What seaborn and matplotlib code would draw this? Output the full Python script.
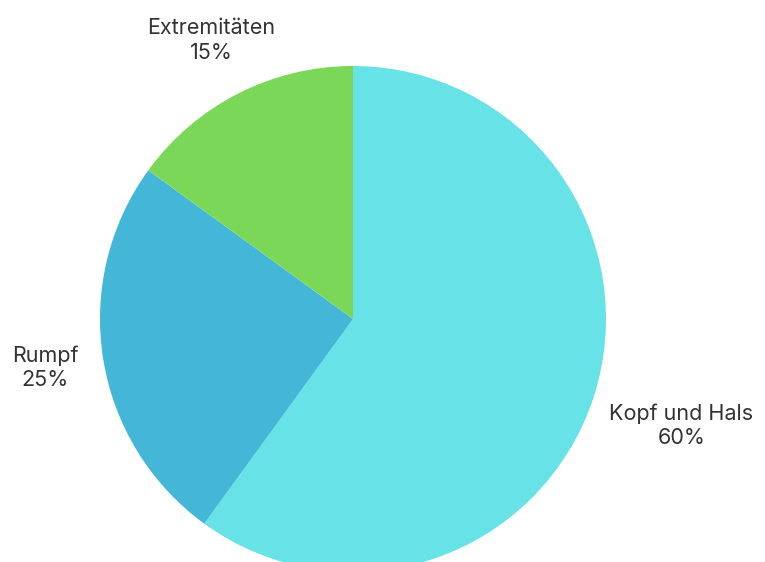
import numpy as np
import seaborn as sns
import matplotlib.pyplot as plt

# Data
categories = ["Kopf und Hals", "Rumpf", "Extremitäten"]
shares = [60, 25, 15]
colors = ["#67E3E8", "#44B7D8", "#7AD757"]
label_dist = [1.365, 1.233, 1.237]

sns.set_theme(style="white")
plt.rcParams["font.family"] = ["Inter", "DejaVu Sans"]

fig = plt.figure(figsize=(7.65, 5.62), dpi=100)
ax = fig.add_axes([0, 0, 1, 1])

radius_px = 253
cx, cy = 353, 319
wedges, _ = ax.pie(shares, colors=colors, startangle=90, counterclock=False,
                   radius=1, wedgeprops={"linewidth": 0})

for w, name, share, d in zip(wedges, categories, shares, label_dist):
    ang = np.deg2rad((w.theta1 + w.theta2) / 2)
    ax.text(d * np.cos(ang), d * np.sin(ang), f"{name}\n{share}%",
            ha="center", va="center", fontsize=15.5, color="#333333",
            linespacing=1.3)

ax.set_xlim(-cx / radius_px, (765 - cx) / radius_px)
ax.set_ylim((cy - 562) / radius_px, cy / radius_px)
ax.set_aspect("equal")
ax.axis("off")

plt.savefig("out.png", dpi=100)
